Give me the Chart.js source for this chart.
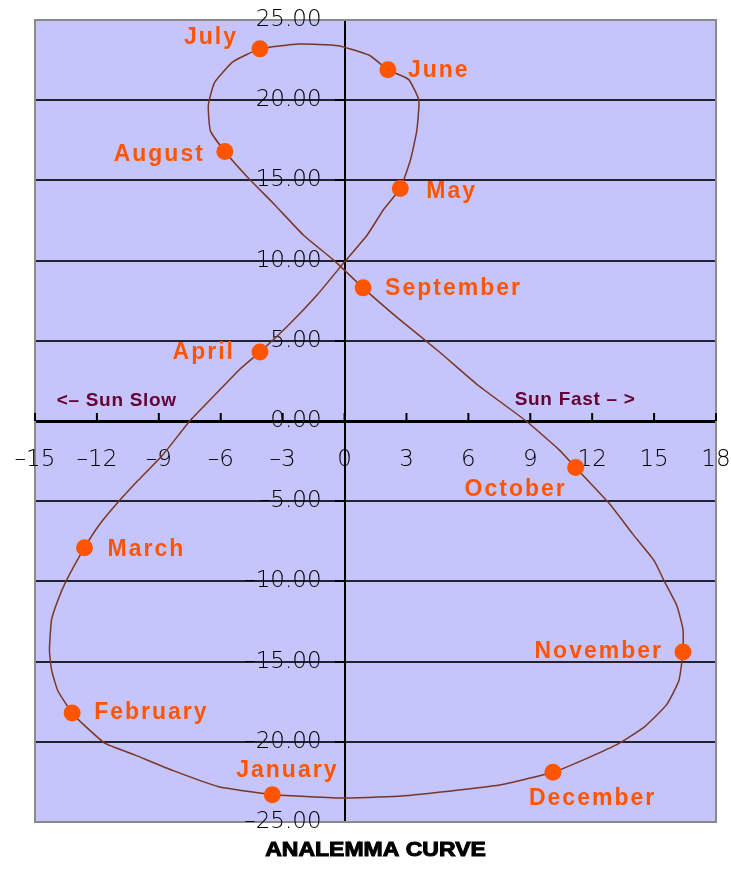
<!DOCTYPE html>
<html>
<head>
<meta charset="utf-8">
<title>Analemma Curve</title>
<script src="https://cdn.jsdelivr.net/npm/chart.js@4.4.1/dist/chart.umd.min.js"></script>
<style>
  html, body { margin: 0; padding: 0; background: #fff; }
  canvas { display: block; }
</style>
</head>
<body>
<canvas id="analemma" width="731" height="869"></canvas>
<script>
// Axis ranges (equation of time in minutes vs. declination in degrees)
const xMin = -15, xMax = 18, xStep = 3;
const yMin = -25, yMax = 25, yStep = 5;

// Month markers
const months = ['January', 'February', 'March', 'April', 'May', 'June',
  'July', 'August', 'September', 'October', 'November', 'December'];
const monthEot  = [-3.5, -13.2, -12.6, -4.1, 2.7, 2.1, -4.1, -5.8, 0.9, 11.2, 16.4, 10.1];
const monthDecl = [-23.3, -18.2, -7.9, 4.3, 14.5, 21.9, 23.2, 16.8, 8.3, -2.9, -14.4, -21.9];

// The curve itself, Jan -> Dec -> Jan
const curveEot = [
  -3.5, -6.1, -8.3, -10.2, -11.6, -12.5, -13.2, -13.9, -14.2, -14.3, -14.2, -13.9, -13.5,
  -12.6, -11.9, -11.0, -10.0, -8.8, -7.5, -6.3, -5.1, -4.1, -2.7, -1.3, 0.05, 1.1, 1.9,
  2.7, 3.2, 3.5, 3.6, 3.1, 2.1, 1.2, -0.3, -2.2, -4.1, -5.4, -6.3, -6.6, -6.5,
  -5.8, -4.7, -3.4, -2.0, -0.5, 0.9, 2.6, 4.6, 6.5, 8.8, 10.4,
  11.2, 12.8, 14.0, 15.0, 15.5, 16.1, 16.4, 16.4, 16.2, 15.6, 14.5, 13.3, 11.8,
  10.1, 7.5, 4.9, 2.6, -0.3, -3.5
];
const curveDecl = [
  -23.3, -22.8, -21.8, -20.8, -20.1, -19.1, -18.2, -16.8, -15.5, -14.3, -12.4, -11.2, -10.0,
  -7.9, -6.5, -5.1, -3.7, -2.1, 0.0, 1.6, 3.2, 4.3, 6.0, 7.9, 10.0, 11.6, 13.2,
  14.5, 16.3, 18.1, 20.0, 21.3, 21.9, 22.8, 23.4, 23.5, 23.2, 22.4, 21.1, 19.7, 18.1,
  16.8, 15.2, 13.5, 11.6, 10.0, 8.3, 6.4, 4.3, 2.2, 0.0, -1.8,
  -2.9, -5.1, -7.1, -8.7, -10.0, -11.5, -13.0, -14.4, -16.2, -17.7, -19.1, -20.1, -21.0,
  -21.9, -22.7, -23.1, -23.4, -23.5, -23.3
];

const chartTitle = 'ANALEMMA CURVE';
const slowText = '<\u2013 Sun Slow';
const fastText = 'Sun Fast \u2013 >';

// where each month label sits relative to its marker (pixels)
const labelPlace = {
  January:   { dx: 15,  dy: -24, align: 'center' },
  February:  { dx: 22,  dy: 0,   align: 'left' },
  March:     { dx: 23,  dy: 2,   align: 'left' },
  April:     { dx: -25, dy: 1,   align: 'right' },
  May:       { dx: 26,  dy: 3,   align: 'left' },
  June:      { dx: 20,  dy: 1,   align: 'left' },
  July:      { dx: -22, dy: -11, align: 'right' },
  August:    { dx: -20, dy: 3,   align: 'right' },
  September: { dx: 22,  dy: 1,   align: 'left' },
  October:   { dx: -60, dy: 22,  align: 'center' },
  November:  { dx: -20, dy: 0,   align: 'right' },
  December:  { dx: -24, dy: 26,  align: 'left' }
};

const ORANGE = '#ff5500';
const PLOT_BG = '#c5c5fb';
const TICK_FONT = '200 23px "DejaVu Sans"';

const minus = s => s.replace('-', '\u2013');

const plotFrame = {
  id: 'plotFrame',
  beforeDraw(chart) {
    const { ctx, chartArea: a } = chart;
    ctx.save();
    ctx.fillStyle = PLOT_BG;
    ctx.fillRect(a.left, a.top, a.width, a.height);
    ctx.restore();
  },
  beforeDatasetsDraw(chart) {
    const { ctx, chartArea: a, scales } = chart;
    const x0 = scales.x.getPixelForValue(0);
    const y0 = scales.y.getPixelForValue(0);
    ctx.save();
    // frame
    ctx.strokeStyle = '#8a8a8a';
    ctx.lineWidth = 2;
    ctx.strokeRect(a.left, a.top, a.width, a.height);
    // x ticks pointing up from the axis
    ctx.strokeStyle = '#000';
    ctx.lineWidth = 2;
    scales.x.ticks.forEach(t => {
      const px = scales.x.getPixelForValue(t.value);
      ctx.beginPath();
      ctx.moveTo(px, y0);
      ctx.lineTo(px, y0 - 8);
      ctx.stroke();
    });
    // tick labels
    ctx.font = TICK_FONT;
    ctx.fillStyle = '#000';
    ctx.textBaseline = 'middle';
    ctx.textAlign = 'right';
    scales.y.ticks.forEach(t => {
      ctx.fillText(minus(t.value.toFixed(2)), x0 - 23, scales.y.getPixelForValue(t.value));
    });
    ctx.textAlign = 'center';
    scales.x.ticks.forEach(t => {
      ctx.fillText(minus(String(t.value)), scales.x.getPixelForValue(t.value), y0 + 39);
    });
    ctx.restore();
  },
  afterDraw(chart) {
    const { ctx, chartArea: a, scales } = chart;
    ctx.save();
    // month labels
    ctx.font = 'bold 23px "Liberation Sans"';
    ctx.letterSpacing = '2px';
    ctx.fillStyle = ORANGE;
    ctx.textBaseline = 'middle';
    months.forEach((m, i) => {
      const p = labelPlace[m];
      const px = scales.x.getPixelForValue(monthEot[i]) + p.dx;
      const py = scales.y.getPixelForValue(monthDecl[i]) + p.dy;
      ctx.textAlign = p.align;
      ctx.fillText(m, px, py);
    });
    // sun slow / fast
    ctx.font = 'bold 19px "Liberation Sans"';
    ctx.letterSpacing = '0.7px';
    ctx.fillStyle = '#660033';
    ctx.textAlign = 'left';
    ctx.fillText(slowText, scales.x.getPixelForValue(-13.95), scales.y.getPixelForValue(1.25));
    ctx.textAlign = 'right';
    ctx.fillText(fastText, scales.x.getPixelForValue(14.1), scales.y.getPixelForValue(1.3));
    // title under the plot
    ctx.letterSpacing = '0px';
    ctx.font = 'bold 20px "Liberation Sans"';
    ctx.fillStyle = '#000';
    ctx.strokeStyle = '#000';
    ctx.lineWidth = 1;
    ctx.textAlign = 'center';
    ctx.translate((a.left + a.right) / 2, a.bottom + 28);
    ctx.scale(1.15, 1);
    ctx.fillText(chartTitle, 0, 0);
    ctx.strokeText(chartTitle, 0, 0);
    ctx.restore();
  }
};

new Chart(document.getElementById('analemma'), {
  type: 'scatter',
  data: {
    datasets: [
      {
        label: 'Analemma',
        data: curveEot.map((x, i) => ({ x: x, y: curveDecl[i] })),
        showLine: true,
        borderColor: '#7a3526',
        borderWidth: 1.5,
        tension: 0.15,
        pointRadius: 0,
        order: 2
      },
      {
        label: 'Months',
        data: monthEot.map((x, i) => ({ x: x, y: monthDecl[i] })),
        showLine: false,
        pointRadius: 8.5,
        pointBackgroundColor: ORANGE,
        pointBorderWidth: 0,
        order: 1
      }
    ]
  },
  options: {
    responsive: false,
    animation: false,
    layout: { autoPadding: false, padding: { left: 35, right: 15, top: 20, bottom: 47 } },
    plugins: {
      legend: { display: false },
      tooltip: { enabled: false }
    },
    scales: {
      x: {
        type: 'linear',
        position: { y: 0 },
        min: xMin,
        max: xMax,
        ticks: { stepSize: xStep, display: false },
        grid: { display: false },
        border: { display: true, color: '#000', width: 3 }
      },
      y: {
        type: 'linear',
        position: { x: 0 },
        min: yMin,
        max: yMax,
        ticks: { stepSize: yStep, display: false },
        grid: {
          color: ctx => (ctx.tick && Math.abs(ctx.tick.value) === 25) ? 'rgba(0,0,0,0)' : '#222230',
          lineWidth: 2,
          tickColor: '#000',
          tickLength: 9
        },
        border: { display: true, color: '#000', width: 2 }
      }
    }
  },
  plugins: [plotFrame]
});
</script>
</body>
</html>
